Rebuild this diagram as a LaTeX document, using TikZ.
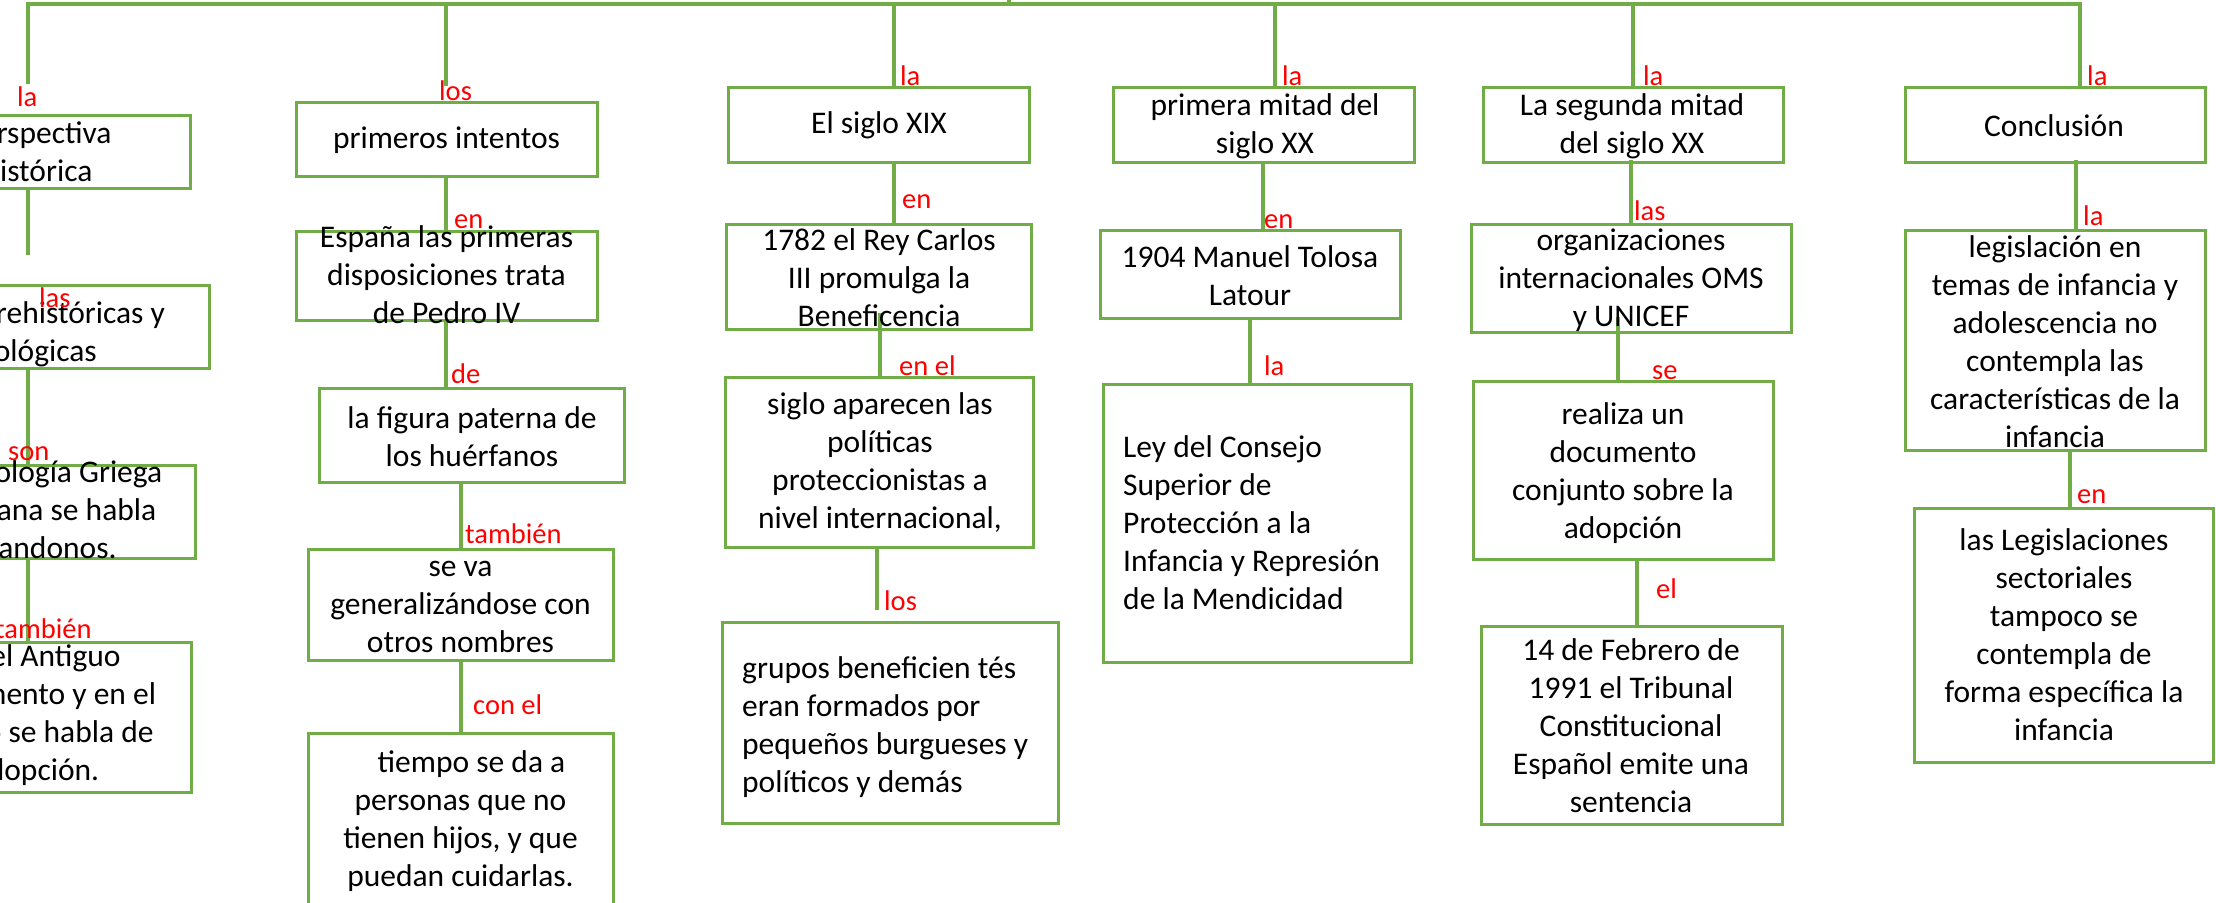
\documentclass[tikz,border=0pt]{standalone}
\usepackage{fontspec}
\setmainfont{Carlito}
\definecolor{mapgreen}{RGB}{112,173,71}
\definecolor{linkred}{RGB}{255,0,0}

\begin{document}
\begin{tikzpicture}[
    x=1pt, y=-1pt,
    box/.style={
        draw=mapgreen, line width=3pt,
        inner sep=0pt
    },
    txt/.style={
        font=\fontsize{31.5}{38}\selectfont,
        align=center, inner sep=0pt
    },
    word/.style={
        font=\fontsize{28.5}{34}\selectfont,
        text=linkred, inner sep=0pt, anchor=base west
    },
    link/.style={draw=mapgreen, line width=4pt}
]
\useasboundingbox (0,0) rectangle (2216,902);
\clip (0,0) rectangle (2216,902);

\node[box, minimum width=304pt, minimum height=73pt] (a1) at (38,151.5) {};
\node[box, minimum width=370pt, minimum height=83pt] (a2) at (24,326.5) {};
\node[box, minimum width=346pt, minimum height=93pt] (a3) at (22,511.5) {};
\node[box, minimum width=308pt, minimum height=150pt] (a4) at (37,717) {};
\node[box, minimum width=301pt, minimum height=74pt] (b1) at (446.5,139) {};
\node[box, minimum width=301pt, minimum height=89pt] (b2) at (446.5,275.5) {};
\node[box, minimum width=305pt, minimum height=94pt] (b3) at (471.5,435) {};
\node[box, minimum width=305pt, minimum height=111pt] (b4) at (460.5,604.5) {};
\node[box, minimum width=305pt, minimum height=227pt] (b5) at (460.5,846.5) {};
\node[box, minimum width=301pt, minimum height=75pt] (c1) at (878.5,124.5) {};
\node[box, minimum width=305pt, minimum height=105pt] (c2) at (878.5,276.5) {};
\node[box, minimum width=308pt, minimum height=170pt] (c3) at (879,462) {};
\node[box, minimum width=336pt, minimum height=201pt] (c4) at (890,722.5) {};
\node[box, minimum width=301pt, minimum height=75pt] (d1) at (1263.5,124.5) {};
\node[box, minimum width=300pt, minimum height=88pt] (d2) at (1250,274) {};
\node[box, minimum width=308pt, minimum height=278pt] (d3) at (1257,523) {};
\node[box, minimum width=300pt, minimum height=75pt] (e1) at (1633,124.5) {};
\node[box, minimum width=320pt, minimum height=108pt] (e2) at (1631,278) {};
\node[box, minimum width=300pt, minimum height=178pt] (e3) at (1623,470) {};
\node[box, minimum width=301pt, minimum height=198pt] (e4) at (1631.5,725) {};
\node[box, minimum width=300pt, minimum height=75pt] (f1) at (2055,124.5) {};
\node[box, minimum width=300pt, minimum height=220pt] (f2) at (2055,340) {};
\node[box, minimum width=299pt, minimum height=254pt] (f3) at (2063.5,635) {};

\coordinate (railA) at (28,4);
\coordinate (railB) at (446,4);
\coordinate (railC) at (894,4);
\coordinate (railD) at (1275,4);
\coordinate (railE) at (1633,4);
\coordinate (railF) at (2080,4);
\coordinate (root) at (1009,-8);

\draw[link] ([xshift=-10pt,yshift=30pt]a1.north) -- (railA) -- (railF) -- ([xshift=25pt]f1.north);
\draw[link] (root) -- (root |- railA);
\draw[link] (railB) -- ([xshift=-0.5pt,yshift=15pt]b1.north);
\draw[link] (railC) -- ([xshift=15.5pt]c1.north);
\draw[link] (railD) -- ([xshift=11.5pt]d1.north);
\draw[link] (railE) -- (e1.north);

\draw[link] ([xshift=-10pt]a1.south) -- ([xshift=4pt,yshift=29pt]a2.north);
\draw[link] ([xshift=4pt]a2.south) -- ([xshift=6pt]a3.north);
\draw[link] ([xshift=6pt]a3.south) -- ([xshift=-9pt]a4.north);
\draw[link] ([xshift=-0.5pt]b1.south) -- ([xshift=-0.5pt]b2.north);
\draw[link] ([xshift=-0.5pt]b2.south) -- ([xshift=-25.5pt]b3.north);
\draw[link] ([xshift=-10.5pt]b3.south) -- ([xshift=0.5pt]b4.north);
\draw[link] ([xshift=0.5pt]b4.south) -- ([xshift=0.5pt]b5.north);
\draw[link] ([xshift=15.5pt]c1.south) -- ([xshift=15.5pt]c2.north);
\draw[link] ([xshift=1.5pt,yshift=18pt]c2.south) -- ([xshift=1pt]c3.north);
\draw[link] ([xshift=-2pt]c3.south) -- ([xshift=-13pt,yshift=11pt]c4.north);
\draw[link] ([xshift=-0.5pt]d1.south) -- ([xshift=13pt]d2.north);
\draw[link] (d2.south) -- ([xshift=-7pt]d3.north);
\draw[link] ([xshift=-2pt,yshift=4pt]e1.south) -- (e2.north);
\draw[link] ([xshift=-13pt,yshift=17pt]e2.south) -- ([xshift=-5pt]e3.north);
\draw[link] ([xshift=14pt]e3.south) -- ([xshift=5.5pt]e4.north);
\draw[link] ([xshift=21pt,yshift=4pt]f1.south) -- ([xshift=21pt]f2.north);
\draw[link] ([xshift=15pt]f2.south) -- ([xshift=6.5pt]f3.north);

\node[txt] (a1t) at (38,152) {perspectiva\\histórica};
\node[txt] (a2t) at (24,334) {épocas prehistóricas y\\mitológicas};
\node[txt] (a3t) at (22,510) {En la Mitología Griega\\y la Romana se habla\\de abandonos.};
\node[txt] (a4t) at (36,715) {En el Antiguo\\Testamento y en el\\Nuevo se habla de\\adopción.};
\node[txt] (b1t) at (446.5,140) {primeros intentos};
\node[txt] (b2t) at (446.5,275) {España las primeras\\disposiciones trata\\de Pedro IV};
\node[txt] (b3t) at (472,437) {la figura paterna de\\los huérfanos};
\node[txt] (b4t) at (460.5,607) {se va\\generalizándose con\\otros nombres};
\node[txt] (b5t) at (460.5,821) {\hspace*{22pt}tiempo se da a\\personas que no\\tienen hijos, y que\\puedan cuidarlas.};
\node[txt] (c1t) at (879,125) {El siglo XIX};
\node[txt] (c2t) at (879,278) {1782 el Rey Carlos\\III promulga la\\Beneficencia};
\node[txt] (c3t) at (880,463) {siglo aparecen las\\políticas\\proteccionistas a\\nivel internacional,};
\node[txt, align=left, anchor=west] (c4t) at (742,727) {grupos beneficien tés\\eran formados por\\pequeños burgueses y\\políticos y demás};
\node[txt] (d1t) at (1265,126) {primera mitad del\\siglo XX};
\node[txt] (d2t) at (1250,276) {1904 Manuel Tolosa\\Latour};
\node[txt, align=left, anchor=west] (d3t) at (1123,523) {Ley del Consejo\\Superior de\\Protección a la\\Infancia y Represión\\de la Mendicidad};
\node[txt] (e1t) at (1632,126) {La segunda mitad\\del siglo XX};
\node[txt] (e2t) at (1631,280) {organizaciones\\internacionales OMS\\y UNICEF};
\node[txt] (e3t) at (1623,473) {realiza un\\documento\\conjunto sobre la\\adopción};
\node[txt] (e4t) at (1631,726) {14 de Febrero de\\1991 el Tribunal\\Constitucional\\Español emite una\\sentencia};
\node[txt] (f1t) at (2054,126) {Conclusión};
\node[txt] (f2t) at (2055,342) {legislación en\\temas de infancia y\\adolescencia no\\contempla las\\características de la\\infancia};
\node[txt] (f3t) at (2064,635) {las Legislaciones\\sectoriales\\tampoco se\\contempla de\\forma específica la\\infancia};

\node[word] (wa1) at (17,106) {la};
\node[word] (wa2) at (39,307) {las};
\node[word] (wa3) at (8,460) {son};
\node[word] (wa4) at (-5,638) {también};
\node[word] (wb1) at (439,100) {los};
\node[word] (wb2) at (454,228) {en};
\node[word] (wb3) at (451,383) {de};
\node[word] (wb4) at (465,543) {también};
\node[word] (wb5) at (473,714) {con el};
\node[word] (wc1) at (900,85) {la};
\node[word] (wc2) at (902,208) {en};
\node[word] (wc3) at (899,375) {en el};
\node[word] (wc4) at (884,610) {los};
\node[word] (wd1) at (1282,85) {la};
\node[word] (wd2) at (1264,228) {en};
\node[word] (wd3) at (1264,375) {la};
\node[word] (we1) at (1643,85) {la};
\node[word] (we2) at (1634,220) {las};
\node[word] (we3) at (1652,379) {se};
\node[word] (we4) at (1656,598) {el};
\node[word] (wf1) at (2087,85) {la};
\node[word] (wf2) at (2083,225) {la};
\node[word] (wf3) at (2077,503) {en};
\end{tikzpicture}
\end{document}
